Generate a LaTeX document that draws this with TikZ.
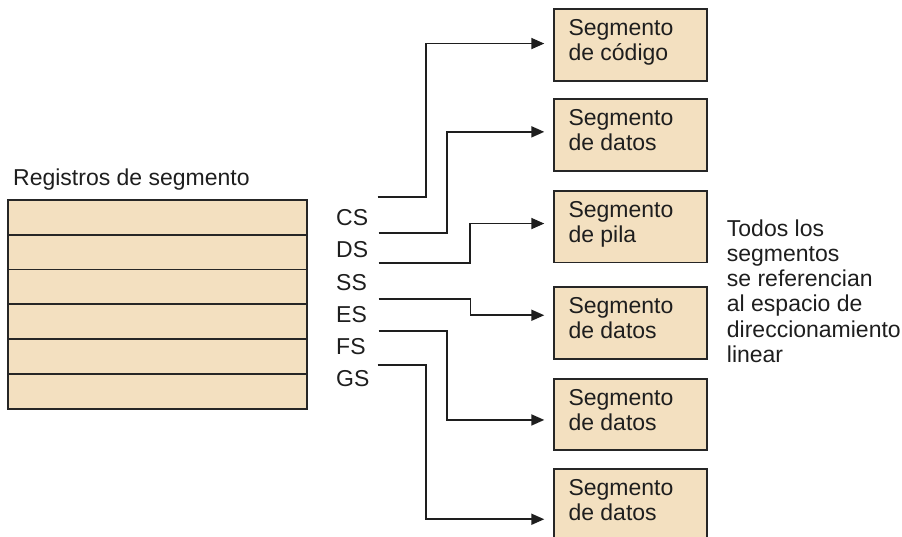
\documentclass[tikz,border=0pt]{standalone}
\usepackage{fontspec}
\setmainfont{Liberation Sans}
\usetikzlibrary{arrows.meta,calc}
\definecolor{segfill}{HTML}{F3E0C0}
\definecolor{ink}{HTML}{1E1E1E}
\definecolor{edge}{HTML}{262626}
\begin{document}
\begin{tikzpicture}[x=1pt,y=-1pt,
  txt/.style={font=\fontsize{23}{25}\selectfont, text=ink, inner sep=0pt, anchor=base west},
  regrow/.style={draw=edge, line width=1.8pt, fill=segfill, minimum width=299pt,
    minimum height=34.83pt, inner sep=0pt, anchor=north west},
  segbox/.style={draw=edge, line width=1.8pt, fill=segfill, minimum width=152.5pt,
    minimum height=71.7pt, inner sep=0pt, anchor=north west},
  conn/.style={draw=ink, line width=1.8pt,
    -{Triangle[length=13pt,width=11pt]}}]
\useasboundingbox (0,0) rectangle (902,537);
\clip (0,0) rectangle (902,537);

% register file
\node[txt] (title) at (13,186) {Registros de segmento};
\foreach \i in {1,...,6}{
  \node[regrow] (r\i) at (7,{199+(\i-1)*34.83}) {};
}

% register names
\node[txt] (cs) at (336,226) {CS};
\node[txt] (ds) at (336,258) {DS};
\node[txt] (ss) at (336,290.5) {SS};
\node[txt] (es) at (336,322.5) {ES};
\node[txt] (fs) at (336,354.5) {FS};
\node[txt] (gs) at (336,386.5) {GS};

% segments
\foreach \i/\y/\a/\b in {1/8.3/Segmento/de código,
                         2/98.3/Segmento/de datos,
                         3/190/Segmento/de pila,
                         4/286/Segmento/de datos,
                         5/377.7/Segmento/de datos,
                         6/468/Segmento/de datos}{
  \node[segbox] (b\i) at (553.3,\y) {};
  \node[txt] (b\i l1) at ($(b\i.north west)+(15,27.5)$) {\a};
  \node[txt] (b\i l2) at ($(b\i l1.base west)+(0,25)$) {\b};
}

% note on the right
\node[txt] (n1) at (726.7,236.7) {Todos los};
\node[txt] (n2) at ($(n1.base west)+(0,25.1)$) {segmentos};
\node[txt] (n3) at ($(n2.base west)+(0,25.1)$) {se referencian};
\node[txt] (n4) at ($(n3.base west)+(0,25.1)$) {al espacio de};
\node[txt] (n5) at ($(n4.base west)+(0,25.1)$) {direccionamiento};
\node[txt] (n6) at ($(n5.base west)+(0,25.1)$) {linear};

% selector lines
\coordinate (s1) at (377.5,197.3);
\coordinate (s2) at (378.5,232.7);
\coordinate (s3) at (378.5,263.3);
\coordinate (s4) at (378.5,299);
\coordinate (s5) at (378.5,331);
\coordinate (s6) at (377.5,365.3);
\coordinate (t1) at ($(b1.west)+(-9,-1.5)$);
\coordinate (t2) at ($(b2.west)+(-9,-3.2)$);
\coordinate (t3) at ($(b3.west)+(-9,-3.2)$);
\coordinate (t4) at ($(b4.west)+(-9,-7.5)$);
\coordinate (t5) at ($(b5.west)+(-9,5.5)$);
\coordinate (t6) at ($(b6.west)+(-9,14.5)$);

\draw[conn] (s1) -- ++(48.5,0) |- (t1);
\draw[conn] (s2) -- ++(68.5,0) |- (t2);
\draw[conn] (s3) -- ++(91.5,0) |- (t3);
\draw[conn] (s4) -- ++(92,0) |- (t4);
\draw[conn] (s5) -- ++(68.5,0) |- (t5);
\draw[conn] (s6) -- ++(48.5,0) |- (t6);
\end{tikzpicture}
\end{document}
